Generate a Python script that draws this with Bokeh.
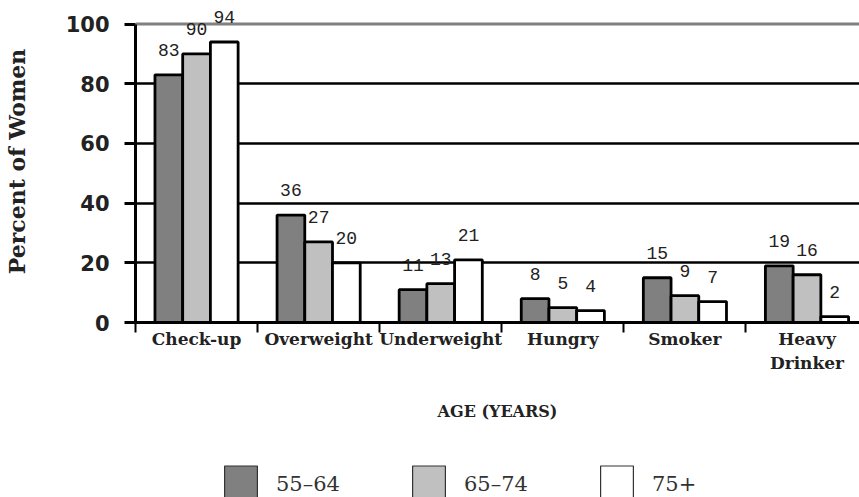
from bokeh.plotting import figure
from bokeh.layouts import column
from bokeh.models import (Range1d, FixedTicker, Span, Legend, LegendItem, ColumnDataSource)
from bokeh.core.properties import value
from bokeh.embed import file_html
from bokeh.resources import INLINE

categories = ["Check-up", "Overweight", "Underweight", "Hungry", "Smoker", "Heavy\nDrinker"]
series_names = ["55\u201364", "65\u201374", "75+"]
values_55_64 = [83, 36, 11, 8, 15, 19]
values_65_74 = [90, 27, 13, 5, 9, 16]
values_75_plus = [94, 20, 21, 4, 7, 2]
series_values = [values_55_64, values_65_74, values_75_plus]
series_colors = ["#808080", "#c0c0c0", "#ffffff"]
y_ticks = [0, 20, 40, 60, 80, 100]

bar_w = 0.227
offsets = [-bar_w, 0.0, bar_w]

p = figure(width=859, height=450, output_backend="svg", toolbar_location=None,
           x_range=Range1d(0, 5.93), y_range=Range1d(0, 107.9),
           min_border_left=132, min_border_right=0, min_border_top=0, min_border_bottom=128)
p.outline_line_color = None

centers = [i + 0.5 for i in range(len(categories))]

for vals, off, col in zip(series_values, offsets, series_colors):
    src = ColumnDataSource(dict(x=[c + off for c in centers], top=vals,
                                lab=[str(v) for v in vals]))
    p.vbar(x="x", top="top", width=bar_w, source=src, fill_color=col,
           line_color="black", line_width=2.8)
    p.text(x="x", y="top", text="lab", source=src, text_align="center",
           text_baseline="bottom", y_offset=-19, text_color="#222222",
           text_font=value("Liberation Mono"), text_font_size="18px")

# grid
p.xgrid.visible = False
p.ygrid.ticker = FixedTicker(ticks=[20, 40, 60, 80])
p.ygrid.grid_line_color = "black"
p.ygrid.grid_line_width = 2.6
p.add_layout(Span(location=100, dimension="width", line_color="#808080",
                  line_width=3, level="underlay"))

# y axis
p.yaxis.ticker = FixedTicker(ticks=y_ticks)
p.yaxis.bounds = (0, 100)
p.yaxis.axis_line_width = 3
p.yaxis.axis_line_color = "black"
p.yaxis.major_tick_line_width = 3
p.yaxis.major_tick_in = 0
p.yaxis.major_tick_out = 11
p.yaxis.minor_tick_line_color = None
p.yaxis.major_label_text_font = "DejaVu Sans"
p.yaxis.major_label_text_font_style = "bold"
p.yaxis.major_label_text_font_size = "21px"
p.yaxis.major_label_text_color = "#222222"
p.yaxis.major_label_standoff = 15
p.yaxis.axis_label = "Percent of Women"
p.yaxis.axis_label_text_font = "DejaVu Serif"
p.yaxis.axis_label_text_font_style = "bold"
p.yaxis.axis_label_text_font_size = "22px"
p.yaxis.axis_label_text_color = "#222222"
p.yaxis.axis_label_standoff = 33

# x axis
p.xaxis.ticker = FixedTicker(ticks=centers, minor_ticks=list(range(len(categories) + 1)))
p.xaxis.major_label_overrides = {c: name for c, name in zip(centers, categories)}
p.xaxis.axis_line_width = 3
p.xaxis.axis_line_color = "black"
p.xaxis.major_tick_line_color = None
p.xaxis.major_tick_in = 0
p.xaxis.major_tick_out = 0
p.xaxis.minor_tick_line_color = "black"
p.xaxis.minor_tick_line_width = 2
p.xaxis.minor_tick_in = 0
p.xaxis.minor_tick_out = 10
p.xaxis.major_label_text_font = "DejaVu Serif"
p.xaxis.major_label_text_font_style = "bold"
p.xaxis.major_label_text_font_size = "17px"
p.xaxis.major_label_text_color = "#222222"
p.xaxis.major_label_standoff = -4
p.xaxis.axis_label = "AGE (YEARS)"
p.xaxis.axis_label_text_font = "DejaVu Serif"
p.xaxis.axis_label_text_font_style = "bold"
p.xaxis.axis_label_text_font_size = "16px"
p.xaxis.axis_label_text_color = "#222222"
p.xaxis.axis_label_standoff = 26

# legend strip: hidden sample renderers, used only for legend swatches
p2 = figure(width=859, height=47, output_backend="svg", toolbar_location=None,
            x_axis_location=None, y_axis_location=None,
            x_range=Range1d(0, 1), y_range=Range1d(0, 1), min_border=0)
p2.outline_line_color = None
p2.grid.visible = False
legend_items = []
for name, col, vals in zip(series_names, series_colors, series_values):
    lsrc = ColumnDataSource(dict(x=[0.5], top=[vals[0]]))
    d = p2.vbar(x="x", top="top", width=0.1, source=lsrc, visible=False,
                fill_color=col, line_color="#333333", line_width=1.2)
    legend_items.append(LegendItem(label=name, renderers=[d]))
legend = Legend(items=legend_items, orientation="horizontal", location=(85, -9),
                glyph_width=41, glyph_height=45, label_standoff=15, spacing=68,
                padding=0, margin=0, border_line_color=None, background_fill_alpha=0,
                label_text_font="DejaVu Serif", label_text_font_size="21px",
                label_text_color="#333333", label_width=61, click_policy="none")
p2.add_layout(legend, "center")

layout = column(p, p2, spacing=0)
open("out.html", "w").write(file_html(layout, INLINE))
